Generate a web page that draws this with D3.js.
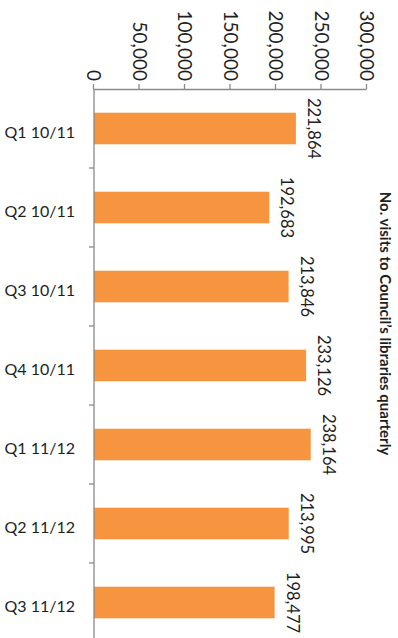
<!DOCTYPE html>
<html>
<head>
<meta charset="utf-8">
<script src="https://cdn.jsdelivr.net/npm/d3@7"></script>
<style>
  html, body { margin: 0; padding: 0; background: #fff; }
  svg { display: block; }
  text { font-family: Lato, "Open Sans", sans-serif; fill: #1e1e1e; }
</style>
</head>
<body>
<div id="chart"></div>
<script>
// Quarterly visits to the Council's libraries
const categories = ["Q1 10/11", "Q2 10/11", "Q3 10/11", "Q4 10/11", "Q1 11/12", "Q2 11/12", "Q3 11/12"];
const visits = [221864, 192683, 213846, 233126, 238164, 213995, 198477];
const valueTicks = [0, 50000, 100000, 150000, 200000, 250000, 300000];
const titleText = "No. visits to Council\u2019s libraries quarterly";

const W = 398, H = 638;
const svg = d3.select("#chart").append("svg")
  .attr("width", W).attr("height", H);

// The chart is laid out as a column chart and turned a quarter turn clockwise.
const g = svg.append("g").attr("transform", `translate(${W},0) rotate(90)`);

const step = 79, start = 89;
const x = d3.scaleBand()
  .domain(categories)
  .range([start, start + step * categories.length])
  .paddingInner(0.6)
  .paddingOuter(0.3);
const y = d3.scaleLinear().domain([0, 300000]).range([304, 31]);

const axisColor = "#8a8a8a";

// Value axis
const yAxis = g.append("g")
  .attr("transform", `translate(${start},0)`)
  .call(d3.axisLeft(y).tickValues(valueTicks).tickSize(5).tickSizeOuter(0)
    .tickPadding(3).tickFormat(d3.format(",")));
yAxis.select(".domain").attr("stroke", axisColor).attr("stroke-width", 1.3);
yAxis.selectAll(".tick line").attr("stroke", axisColor).attr("stroke-width", 1.3);
yAxis.selectAll(".tick text").style("font-size", "19px").attr("fill", "#1e1e1e");

// Bars
g.selectAll("rect.bar").data(visits).join("rect")
  .attr("class", "bar")
  .attr("x", (d, i) => x(categories[i]))
  .attr("y", d => y(d))
  .attr("width", x.bandwidth())
  .attr("height", d => y(0) - y(d))
  .attr("fill", "#f7943f");

// Category axis line and boundary ticks
const bounds = categories.map(c => x(c) - x.step() * x.paddingInner() / 2 - (x.step() * (x.paddingOuter() * 2 - x.paddingInner()) / 2))
  .concat([start + step * categories.length]);
g.append("line")
  .attr("x1", start).attr("x2", start + step * categories.length)
  .attr("y1", y(0)).attr("y2", y(0))
  .attr("stroke", axisColor).attr("stroke-width", 1.3);
g.selectAll("line.ctick").data(bounds.slice(1)).join("line")
  .attr("class", "ctick")
  .attr("x1", d => d).attr("x2", d => d)
  .attr("y1", y(0)).attr("y2", y(0) + 5)
  .attr("stroke", axisColor).attr("stroke-width", 1.3);

// Category labels
g.selectAll("text.cat").data(categories).join("text")
  .attr("class", "cat")
  .attr("transform", c => `translate(${x(c) + x.bandwidth() / 2 + 3.5},${y(0) + 19}) rotate(-90)`)
  .attr("text-anchor", "end")
  .attr("dy", "0.35em")
  .style("font-size", "16px")
  .text(c => c);

// Value labels above bars
g.selectAll("text.val").data(visits).join("text")
  .attr("class", "val")
  .attr("x", (d, i) => x(categories[i]) + x.bandwidth() / 2)
  .attr("y", d => y(d) - 12)
  .attr("text-anchor", "middle")
  .style("font-size", "16.5px")
  .text(d => d3.format(",")(d));

// Title
g.append("text")
  .attr("x", 323.5)
  .attr("y", 18)
  .attr("text-anchor", "middle")
  .style("font-size", "15px")
  .style("font-weight", "bold")
  .text(titleText);
</script>
</body>
</html>
